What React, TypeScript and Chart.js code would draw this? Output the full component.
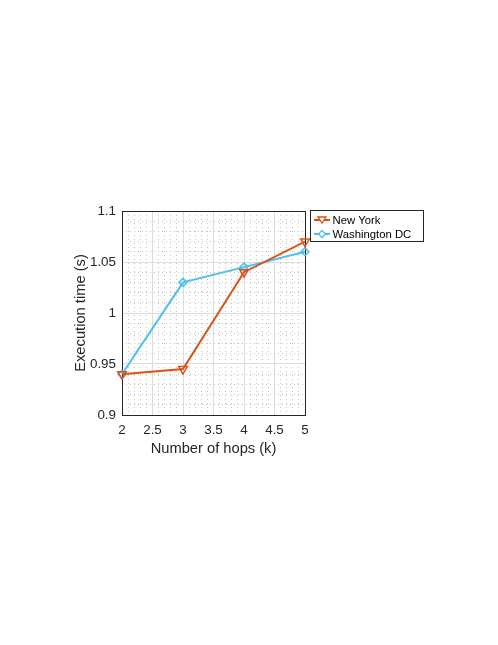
import React, { useEffect, useRef } from "react";
import { Chart, registerables } from "chart.js";

Chart.register(...registerables);

const hops = [2, 3, 4, 5];
const newYork = [0.94, 0.945, 1.04, 1.07];
const washingtonDC = [0.94, 1.03, 1.045, 1.06];
const seriesNames = ["New York", "Washington DC"];
const seriesColors = ["#D95319", "#4DBEEE"];
const xTitle = "Number of hops (k)";
const yTitle = "Execution time (s)";

const FONT = "'Liberation Sans', Arial, Helvetica, sans-serif";

const isMajor = (v: number, step: number) => {
  const r = v / step;
  return Math.abs(r - Math.round(r)) < 1e-6;
};

const boxPlugin = {
  id: "boxAndLegend",
  beforeDatasetsDraw(chart: any) {
    const { ctx, chartArea } = chart;
    ctx.save();
    ctx.strokeStyle = "#262626";
    ctx.lineWidth = 1;
    ctx.setLineDash([]);
    ctx.strokeRect(
      Math.round(chartArea.left) + 0.5,
      Math.round(chartArea.top) + 0.5,
      Math.round(chartArea.right - chartArea.left),
      Math.round(chartArea.bottom - chartArea.top)
    );
    ctx.restore();
  },
  afterDatasetsDraw(chart: any) {
    const { ctx } = chart;
    ctx.save();
    const lx = 310.5, ly = 210.5, lw = 113, lh = 31;
    ctx.fillStyle = "#ffffff";
    ctx.fillRect(lx, ly, lw, lh);
    ctx.strokeStyle = "#262626";
    ctx.lineWidth = 1;
    ctx.strokeRect(lx, ly, lw, lh);
    ctx.font = `11.3px ${FONT}`;
    ctx.textBaseline = "middle";
    ctx.textAlign = "left";
    const rows = [220, 234];
    seriesNames.forEach((name, i) => {
      const y = rows[i];
      ctx.strokeStyle = seriesColors[i];
      ctx.lineWidth = 2;
      ctx.beginPath();
      ctx.moveTo(314, y);
      ctx.lineTo(330, y);
      ctx.stroke();
      ctx.lineWidth = 1.3;
      ctx.fillStyle = "#ffffff";
      ctx.beginPath();
      if (i === 0) {
        ctx.moveTo(318, y - 3);
        ctx.lineTo(326, y - 3);
        ctx.lineTo(322, y + 3);
        ctx.closePath();
      } else {
        ctx.moveTo(322, y - 3.5);
        ctx.lineTo(325.5, y);
        ctx.lineTo(322, y + 3.5);
        ctx.lineTo(318.5, y);
        ctx.closePath();
      }
      ctx.fill();
      ctx.stroke();
      ctx.fillStyle = "#000000";
      ctx.fillText(name, 332.5, y + 0.5);
    });
    ctx.restore();
  },
};

export default function App() {
  const ref = useRef<HTMLCanvasElement | null>(null);
  useEffect(() => {
    if (!ref.current) return;
    const chart = new Chart(ref.current, {
      type: "line",
      data: {
        datasets: [
          {
            label: seriesNames[0],
            data: hops.map((h, i) => ({ x: h, y: newYork[i] })),
            borderColor: seriesColors[0],
            backgroundColor: "#ffffff",
            borderWidth: 2,
            clip: false,
            pointStyle: "triangle",
            rotation: 180,
            pointRadius: 5,
            pointBorderWidth: 1.5,
            pointBackgroundColor: "rgba(255,255,255,0)",
            pointBorderColor: seriesColors[0],
          },
          {
            label: seriesNames[1],
            data: hops.map((h, i) => ({ x: h, y: washingtonDC[i] })),
            borderColor: seriesColors[1],
            backgroundColor: "#ffffff",
            borderWidth: 2,
            clip: false,
            pointStyle: "rectRot",
            pointRadius: 4,
            pointBorderWidth: 1.5,
            pointBackgroundColor: "rgba(255,255,255,0)",
            pointBorderColor: seriesColors[1],
          },
        ],
      },
      options: {
        animation: false,
        responsive: false,
        maintainAspectRatio: false,
        layout: { padding: { left: 68, top: 211, right: 498 - 305, bottom: 183.6 } },
        plugins: { legend: { display: false }, tooltip: { enabled: false } },
        scales: {
          x: {
            type: "linear",
            min: 2,
            max: 5,
            afterFit: (s: any) => { s.height = 46.4; },
            ticks: {
              stepSize: 0.1,
              autoSkip: false,
              maxRotation: 0,
              padding: 7,
              color: "#262626",
              font: { family: FONT, size: 13.4 },
              callback: (v: any) => (isMajor(Number(v), 0.5) ? String(Math.round(Number(v) * 10) / 10) : ""),
            },
            grid: {
              drawTicks: false,
              color: (c: any) => (c.tick && isMajor(c.tick.value, 0.5) ? "#dcdcdc" : "#c4c4c4"),
              lineWidth: 1,
            },
            border: {
              display: false,
              dash: (c: any) => (c.tick && !isMajor(c.tick.value, 0.5) ? [1, 3] : []),
            },
            title: {
              display: true,
              text: xTitle,
              color: "#262626",
              font: { family: FONT, size: 14.7 },
            },
          },
          y: {
            type: "linear",
            min: 0.9,
            max: 1.1,
            afterFit: (s: any) => { s.width = 54; },
            ticks: {
              stepSize: 0.01,
              autoSkip: false,
              padding: 6,
              color: "#262626",
              font: { family: FONT, size: 13.4 },
              callback: (v: any) => (isMajor(Number(v), 0.05) ? String(Math.round(Number(v) * 100) / 100) : ""),
            },
            grid: {
              drawTicks: false,
              color: (c: any) => (c.tick && isMajor(c.tick.value, 0.05) ? "#dcdcdc" : "#c4c4c4"),
              lineWidth: 1,
            },
            border: {
              display: false,
              dash: (c: any) => (c.tick && !isMajor(c.tick.value, 0.05) ? [1, 3] : []),
            },
            title: {
              display: true,
              text: yTitle,
              color: "#262626",
              font: { family: FONT, size: 14.7 },
            },
          },
        },
      },
      plugins: [boxPlugin],
    } as any);
    return () => chart.destroy();
  }, []);
  return (
    <div style={{ position: "fixed", left: 0, top: 0, width: 498, height: 645, background: "#fff" }}>
      <canvas ref={ref} width={498} height={645} style={{ width: 498, height: 645 }} />
    </div>
  );
}
